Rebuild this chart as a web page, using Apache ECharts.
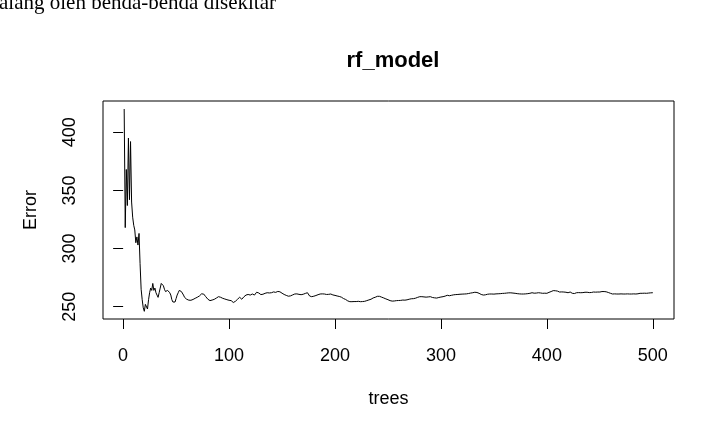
<!DOCTYPE html>
<html>
<head>
<meta charset="utf-8">
<script src="https://cdn.jsdelivr.net/npm/echarts@6/dist/echarts.min.js"></script>
<style>
    html, body { margin: 0; padding: 0; background: #fff; }
    #char1 { width: 708px; height: 426px; }
</style>
</head>
<body>
<div id="char1"></div>
<script>
// OOB error per number of trees
var errorValues = [
    420, 318, 368, 337, 395, 342, 392, 340, 327, 320,
    316, 305, 310, 303, 313, 287, 265, 256, 249, 246,
    252, 253, 248, 256, 262, 266, 264, 270, 264, 266,
    262, 260, 258, 262, 266, 270, 271, 268, 265, 263,
    263, 264, 263, 262, 260, 256, 254, 253, 254, 257,
    260, 262, 264, 264, 263, 262, 260, 258, 257, 256.4,
    256, 255.6, 255.2, 255.5, 255.7, 256.2, 256.9, 257.2, 257.8, 258.1,
    258.6, 259.2, 259.5, 261, 262, 260.9, 259.5, 258.6, 257.5, 256.4,
    256, 255.2, 255.4, 255.7, 255.7, 256.3, 256.9, 257.4, 258.2, 258.6,
    258.3, 258.1, 257.6, 257.2, 256.9, 256.6, 256.4, 256, 255.7, 255.5,
    255.3, 255.2, 254.4, 253.6, 252.9, 254.6, 255.7, 256.4, 257.2, 258.1,
    257.2, 256.4, 257.5, 258.5, 259.2, 260, 260.9, 260.5, 260.2, 260,
    260.6, 260.9, 260.4, 260, 261.3, 262.4, 262.9, 261.8, 260.9, 260.4,
    260, 260.7, 261.2, 261.5, 261.6, 262, 262, 261.8, 262.1, 262,
    262.4, 262.7, 262.9, 262.3, 262, 263.1, 263.8, 262.8, 262, 261.6,
    260.9, 260.5, 260, 259.7, 259.2, 259, 258.6, 259.3, 259.8, 260.1,
    260.6, 260.9, 260.8, 261, 260.9, 260.6, 260.5, 260.3, 260.6, 260.7,
    260.9, 261.4, 261.7, 262, 260.5, 259.2, 258.9, 258.6, 258.9, 259,
    259.2, 259.6, 259.8, 260.3, 260.6, 260.9, 260.8, 261, 260.9, 260.9,
    260.6, 260.5, 260.3, 260.6, 260.7, 260.9, 260.4, 260.1, 259.8, 259.7,
    259.4, 259.2, 259.1, 258.8, 258.6, 258.2, 258.1, 257, 256.9, 256.2,
    255.7, 255, 254.5, 254.3, 254.4, 254.3, 254.2, 254.4, 254.5, 254.4,
    254.6, 254.6, 254.5, 254.3, 254.3, 254.4, 254.3, 254.6, 254.9, 255.2,
    255.4, 255.8, 256.1, 256.4, 256.9, 257.5, 257.9, 258.1, 258.6, 258.9,
    259.2, 258.9, 258.6, 258.2, 257.8, 257.5, 257.1, 256.7, 256.4, 256,
    255.6, 255.2, 255, 254.8, 254.6, 254.9, 255, 255.2, 255.1, 255.3,
    255.2, 255.4, 255.5, 255.7, 255.7, 255.6, 255.8, 255.9, 256.2, 256.4,
    256.5, 256.8, 256.9, 256.9, 257.2, 257.3, 257.5, 258, 258.3, 258.6,
    258.5, 258.6, 258.7, 258.4, 258.3, 258.2, 258.1, 258.4, 258.5, 258.6,
    258.2, 257.9, 257.5, 257.6, 257.5, 257.4, 257.7, 257.9, 258.1, 258.3,
    258.5, 258.6, 258.9, 259.1, 259.5, 259.8, 259.5, 259.4, 259.7, 259.8,
    260, 260.2, 260.3, 260.4, 260.6, 260.5, 260.6, 260.7, 260.6, 260.8,
    260.8, 260.9, 261, 261, 261.2, 261.3, 261.5, 261.7, 261.8, 262,
    262.2, 262.4, 262.6, 262.2, 261.8, 261.5, 261, 260.5, 260.2, 260,
    259.8, 260.2, 260.6, 260.7, 260.8, 260.9, 261, 260.9, 260.9, 260.8,
    260.9, 261, 261, 261.1, 261.2, 261.2, 261.3, 261.4, 261.4, 261.5,
    261.6, 261.7, 261.8, 261.9, 262, 261.9, 261.8, 261.7, 261.6, 261.5,
    261.4, 261.2, 261.1, 261, 260.9, 260.9, 261, 260.9, 260.9, 261,
    261.1, 261.2, 261.4, 261.5, 261.8, 262, 261.8, 261.6, 261.5, 261.7,
    261.9, 262, 261.9, 261.8, 261.6, 261.5, 261.5, 261.6, 261.5, 261.5,
    261.9, 262.3, 262.6, 263, 263.4, 263.8, 263.8, 263.7, 263.8, 263.4,
    263, 262.6, 262.6, 262.7, 262.6, 262.6, 262.5, 262.4, 262.2, 262,
    262.3, 262.6, 262, 261.5, 260.9, 261.3, 261.6, 262, 262, 262.1,
    262, 262, 262, 262.1, 262.3, 262.4, 262.6, 262.4, 262.3, 262.1,
    262, 262.2, 262.4, 262.6, 262.6, 262.5, 262.6, 262.6, 262.7, 262.6,
    262.8, 263, 263.2, 263, 262.9, 262.8, 262.6, 262.2, 261.8, 261.5,
    261.2, 260.9, 260.9, 261, 260.9, 260.9, 260.8, 260.9, 260.9, 261,
    260.9, 260.9, 260.8, 260.9, 260.9, 261, 260.9, 260.9, 260.8, 260.9,
    260.9, 261, 260.9, 260.9, 260.9, 261.1, 261.3, 261.5, 261.4, 261.5,
    261.5, 261.6, 261.5, 261.5, 261.6, 261.7, 262, 261.9, 262, 262
];
var xTicks = [0, 100, 200, 300, 400, 500];
var yTicks = [250, 300, 350, 400];

char1();

function char1() {
    var myChart = echarts.init(document.getElementById("char1"));

    // pair each error with its tree number (1..500)
    var data = [];
    for (var i = 0; i < errorValues.length; i++) {
        data.push([i + 1, errorValues[i]]);
    }

    var font = "Liberation Sans, Arial, sans-serif";

    var option = {
        backgroundColor: "#fff",
        animation: false,
        title: {
            text: "rf_model",
            left: 388,
            textAlign: "center",
            top: 45,
            textStyle: {
                fontFamily: font,
                fontSize: 22,
                fontWeight: "bold",
                color: "#000",
            },
        },
        graphic: [
            {
                // leftover line of document text above the figure
                type: "text",
                left: -1,
                top: -7,
                style: {
                    text: "alang oleh benda-benda disekitar",
                    fontFamily: "Liberation Serif, Times New Roman, serif",
                    fontSize: 21,
                    fill: "#000",
                },
            },
        ],
        grid: {
            show: true,
            left: 103,
            right: 34,
            top: 101,
            bottom: 107,
            borderColor: "#000",
            borderWidth: 1,
        },
        xAxis: {
            type: "value",
            min: -19,
            max: 520,
            name: "trees",
            nameLocation: "middle",
            nameGap: 71,
            nameTextStyle: {
                fontFamily: font,
                fontSize: 18,
                color: "#000",
            },
            axisLine: { show: false },
            axisTick: {
                show: true,
                length: 10,
                customValues: xTicks,
                lineStyle: { color: "#000" },
            },
            axisLabel: {
                customValues: xTicks,
                margin: 28,
                fontFamily: font,
                fontSize: 18,
                color: "#000",
            },
            splitLine: { show: false },
        },
        yAxis: {
            type: "value",
            min: 239.4,
            max: 426.9,
            name: "Error",
            nameLocation: "middle",
            nameGap: 63,
            nameRotate: 90,
            nameTextStyle: {
                fontFamily: font,
                fontSize: 18,
                color: "#000",
            },
            axisLine: { show: false },
            axisTick: {
                show: true,
                length: 10,
                customValues: yTicks,
                lineStyle: { color: "#000" },
            },
            axisLabel: {
                customValues: yTicks,
                rotate: 90,
                margin: 24,
                fontFamily: font,
                fontSize: 18,
                color: "#000",
            },
            splitLine: { show: false },
        },
        series: [
            {
                name: "Error",
                type: "line",
                showSymbol: false,
                symbol: "none",
                lineStyle: { color: "#000", width: 1 },
                data: data,
            },
        ],
    };

    myChart.setOption(option);
    window.addEventListener("resize", function () {
        myChart.resize();
    });
}
</script>
</body>
</html>
